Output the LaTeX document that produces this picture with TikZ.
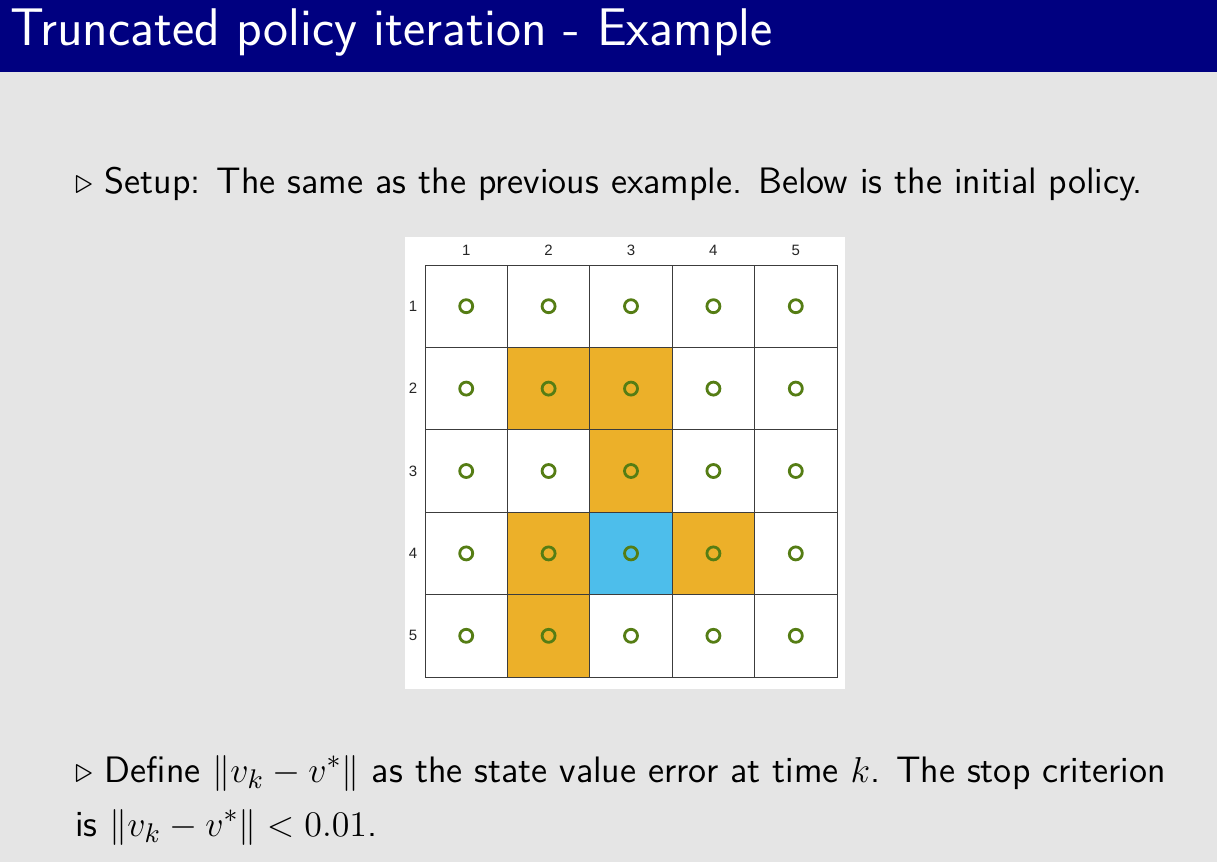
\documentclass[tikz,border=0pt]{standalone}
\usepackage{fontspec}
\newfontfamily\arial{Liberation Sans}
\definecolor{navybar}{RGB}{0,0,128}
\definecolor{slidebg}{RGB}{229,229,229}
\definecolor{cellorange}{RGB}{236,176,41}
\definecolor{cellblue}{RGB}{77,190,235}
\definecolor{ringgreen}{RGB}{85,125,20}
\definecolor{gridline}{RGB}{60,60,60}
\newcommand{\bodyscale}[1]{\scalebox{3}{\sffamily\fontsize{12.27}{15}\selectfont #1}}
\tikzset{
  bodytext/.style={anchor=base west, inner sep=0pt},
  cellbox/.style={draw=gridline, line width=0.9pt, minimum size=82.4pt, inner sep=0pt, fill=white},
  ring/.style={circle, draw=ringgreen, line width=2.8pt, minimum size=13pt, inner sep=0pt},
  axislabel/.style={inner sep=0pt, font=\arial\fontsize{15}{17}\selectfont, text=black!85}
}
\begin{document}
\begin{tikzpicture}[x=1pt,y=-1pt]
\useasboundingbox (0,0) rectangle (1217,862);
\fill[slidebg] (0,0) rectangle (1217,862);
\fill[navybar] (0,0) rectangle (1217,72);
\node[anchor=base west, inner sep=0pt, text=white, font=\sffamily\fontsize{53}{63}\selectfont] (title) at (10,45) {Truncated policy iteration - Example};
\node[bodytext] (setup) at (75,193) {\bodyscale{$\triangleright$ Setup: The same as the previous example. Below is the initial policy.}};
\fill[white] (405,237) rectangle (845,689);
\foreach \r in {1,...,5}{
  \foreach \c in {1,...,5}{
    \node[cellbox] (cell-\r-\c) at ({425+82.4*(\c-0.5)},{265+82.4*(\r-0.5)}) {};
  }
}
\foreach \r/\c in {2/2,2/3,3/3,4/2,4/4,5/2}{
  \node[cellbox, fill=cellorange] at (cell-\r-\c) {};
}
\node[cellbox, fill=cellblue] at (cell-4-3) {};
\foreach \r in {1,...,5}{
  \foreach \c in {1,...,5}{
    \node[ring] (ring-\r-\c) at (cell-\r-\c) {};
  }
}
\foreach \c in {1,...,5}{
  \node[axislabel] (col-\c) at ({425+82.4*(\c-0.5)},250) {\c};
}
\foreach \r in {1,...,5}{
  \node[axislabel] (row-\r) at (413,{265+82.4*(\r-0.5)}) {\r};
}
\node[bodytext] (define) at (75,782) {\bodyscale{$\triangleright$ Define $\|v_k-v^*\|$ as the state value error at time $k$. The stop criterion}};
\node[bodytext] (crit) at (75,836) {\bodyscale{is $\|v_k-v^*\|<0.01$.}};
\end{tikzpicture}
\end{document}
